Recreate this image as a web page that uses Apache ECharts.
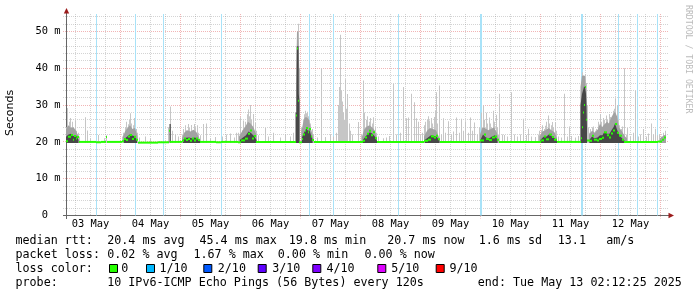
<!DOCTYPE html>
<html><head><meta charset="utf-8">
<script src="https://cdn.jsdelivr.net/npm/echarts@6/dist/echarts.min.js"></script>
<style>html,body{margin:0;padding:0;background:#fff}#c{width:697px;height:297px}</style>
</head><body><div id="c"></div>
<script>
// ---------------- data (time = hours since Sat May 3 02:12:25 2025) ----------------
const dayLabels = ['03 May','04 May','05 May','06 May','07 May','08 May','09 May','10 May','11 May','12 May'];
const yTickValues = [0,10,20,30,40,50];

// median RTT (ms): each value holds until the next point
const medianRtt = [
[0,20.2],[1.1,21.4],[2.0,21.9],[2.8,20.6],[3.5,21.6],[4.1,20.9],[4.6,21.3],[5.2,20.0],
[12.0,19.9],[14.0,20.0],[16.0,21.3],[16.4,20.0],
[22.4,20.2],[23.2,20.8],[24.0,20.5],[25.0,21.5],[25.8,21.9],[26.6,20.8],[27.2,21.4],[28.0,20.6],[28.8,19.8],
[37.0,19.9],[41.4,23.0],[41.8,20.0],
[46.4,20.3],[47.2,20.9],[48.0,20.5],[48.8,20.8],[49.6,20.3],[50.4,20.9],[51.2,20.4],[52.0,20.9],[52.8,20.5],[53.6,20.0],
[60.0,19.9],[62.0,20.0],
[68.8,19.9],[70.3,20.4],[71.6,20.9],[72.9,22.2],[73.9,23.1],[74.7,20.9],[75.3,21.6],[76.0,20.0],
[92.2,27.2],[92.6,45.4],[93.0,31.2],[93.4,19.9],
[94.4,20.8],[95.0,22.0],[95.6,23.0],[96.2,23.8],[96.8,22.6],[97.4,23.5],[98.0,21.5],[98.6,20.5],[99.2,20.0],
[118.8,20.3],[119.6,21.2],[120.4,22.2],[121.2,23.0],[122.0,21.8],[122.8,22.6],[123.6,21.0],[124.4,20.0],
[143.2,20.3],[144.8,20.6],[146.0,21.5],[147.2,21.2],[148.0,21.7],[148.8,20.7],[149.6,20.0],
[165.6,20.4],[167.2,22.0],[168.0,20.8],[169.2,20.5],[170.4,21.2],[171.6,21.5],[172.4,20.6],[173.2,20.0],
[190.0,20.4],[191.2,21.5],[192.0,20.7],[193.2,22.0],[194.4,21.3],[195.2,20.6],[196.4,20.0],
[206.0,21.0],[206.4,24.0],[206.8,28.0],[207.2,30.0],[207.6,34.9],[208.0,26.0],[208.4,20.4],
[209.2,20.3],[210.4,21.7],[211.2,20.6],[212.4,20.4],[213.2,20.8],[214.4,21.1],[215.2,22.6],[216.4,21.8],[217.2,21.2],[218.0,22.3],[218.8,23.1],[219.6,24.9],[220.4,22.5],[221.2,21.7],[222.4,20.6],[223.2,20.0],
[236.8,20.1],[238.4,20.6],[239.2,21.2],[240,21.2]
];

// max ping per step (ms) - light smoke
const smokeMax = [
[0.2,24],[0.7,29.2],[1.2,25.5],[1.6,26.5],[2.0,24],[2.4,25.5],[3.0,23.5],[3.6,25.8],[4.2,23],[4.8,22.5],[5.2,21.5],
[7.7,26.7],[8.4,23.1],[9.6,21],[12.8,21.9],[15.2,21],[16.2,21.8],
[22.4,21.5],[23.0,22.5],[23.6,24],[24.2,25.5],[24.8,24.8],[25.2,26],[25.7,27.8],[26.2,25],[26.8,24.5],[27.4,26.5],[28.0,23.5],[28.6,22.5],[29.2,21.2],
[31.6,21.5],[33.6,21],
[41.1,24],[41.7,29.6],[42.4,23],[43.6,22],[44.8,21.5],
[46.4,22],[47.0,23.5],[47.6,24.5],[48.2,23.2],[48.8,24.9],[49.4,23.8],[50.0,24.6],[50.6,23],[51.2,24.9],[51.8,24],[52.4,24.5],[53.0,22.5],[53.6,21.8],[55.1,24.9],[56.3,25],[57.6,21],[59.6,21.3],[62.4,21.5],[64.0,22],[65.6,22.3],[67.2,21.2],
[68.0,22.5],[68.8,22.5],[69.9,26.7],[70.6,23.2],[70.9,25.8],[71.2,24],[71.8,25.5],[72.4,27.5],[72.9,28.8],[73.4,27],[73.8,30],[74.2,26],[74.8,27.6],[75.6,25.2],[76.2,23],[76.8,21.8],
[79.6,23.8],[80.8,21.5],[82.8,22.5],[85.6,21.2],[87.6,22],[89.6,21.5],[91.0,22.5],
[91.7,28],[92.1,35],[92.5,49],[92.9,52.1],[93.3,40],
[94.3,24],[94.8,26],[95.2,27.5],[95.6,28.5],[96.0,27.8],[96.4,28.2],[96.8,27],[97.3,26],[97.8,25],[98.4,23.5],[98.9,22],
[100.4,21.2],[102.3,40],[103.6,21.3],[105.6,22],[106.8,21.5],
[108.0,22.5],[108.8,30],[109.2,34.9],[109.6,33],[109.9,49.1],[110.2,34],[110.6,31],[111.0,28],[111.4,26],[111.9,37],[112.2,29],[112.6,33],[113.2,25],[113.8,23],[114.4,22],
[116.9,25.4],
[118.0,22],[118.9,36.7],[119.4,28],[120.0,26],[120.6,27],[121.2,25.5],[121.8,26.5],[122.4,25],[122.9,26.7],[123.6,24],[124.2,22.5],[124.8,21.5],
[126.8,21],[128.1,21.2],[129.5,21.6],[130.9,35.8],[132.0,22],[133.6,22.5],[134.9,34.9],[136.1,26.4],[137.1,26.6],[138.2,33.1],[139.2,30.8],[140.1,26.4],[140.8,25.5],[141.8,22],
[142.4,22.5],[143.2,24.5],[143.8,25.5],[144.4,26],[144.8,27],[145.4,25.8],[146.0,26.5],[146.6,25],[147.2,26.8],[147.6,28.5],[148.1,33.5],[148.6,25],[149.5,35.3],[150.0,22],
[150.8,26.4],[151.8,22.5],[152.8,25.6],[154.0,22],[155.0,22.8],[156.1,26.6],[157.2,22.5],[158.1,26.3],[158.8,23],[159.7,25.6],[160.8,22.5],[161.9,26.6],[162.6,23],[163.5,25.3],[164.4,22],
[165.4,24],[166.0,28],[166.8,29.9],[167.4,26],[168.1,27.9],[168.6,25],[169.2,26.6],[169.8,25],[170.2,24],[170.8,28.5],[171.4,25.5],[172.1,27.4],[172.6,24],[173.0,22],
[173.5,33.1],[174.4,22],[175.5,21.9],[176.4,21.5],[178.1,33.5],[179.2,22],[180.4,21.5],[181.6,22],[182.8,26.3],[184.1,21.9],[184.9,23.6],[186.0,21.5],[187.6,21.3],
[188.8,22],[189.4,23],[190.0,23.2],[190.6,24.5],[191.2,23.5],[191.6,24.4],[192.2,25.5],[192.9,27.2],[193.4,25],[194.0,24.5],[194.4,25.4],[194.9,24],[195.6,25.4],[196.2,23],[196.8,21.5],
[198.0,21.2],[199.3,33.1],[200.4,21.5],[201.3,24.2],[202.3,21.6],[203.6,21.2],[204.9,21.6],
[206.0,35],[206.4,38.9],[206.8,37],[207.2,37.5],[207.6,38.4],[208.0,36],[208.4,30],[208.8,24],
[209.2,22.5],[209.8,23.5],[210.4,24],[210.9,24.2],[211.6,23],[212.2,23.5],[212.8,25.5],[213.6,27.6],[214.2,25.5],[214.8,26.5],[215.4,26],[216.0,27.2],[216.6,26],[217.2,27.6],[217.8,26.8],[218.4,27],[219.0,28.5],[219.4,29],[219.9,31.7],[220.4,30],[220.8,26],[221.4,24.5],[222.0,23.5],[222.6,24.2],[223.3,40],[224.0,22],[224.6,23.8],
[225.6,21.5],[226.8,22.5],[227.9,34],[228.8,21.5],[229.6,22],[230.9,23.5],[232.0,21.5],[232.8,22.3],[234.3,25],[235.0,22],[235.6,23.6],[236.4,21.8],[237.2,22],[238.0,21.5],[238.8,22.5],[239.6,23]
];

// upper envelope of the denser smoke (ms), one list per busy period
const smokeMid = [
[[0,23.5],[1.0,24.5],[2.0,23.8],[3.0,24.0],[4.0,23.0],[5.0,21.5]],
[[22.8,21.5],[23.6,22.8],[24.6,23.8],[25.6,24.5],[26.6,23.5],[27.6,23.8],[28.6,21.5]],
[[46.4,21.0],[47.4,22.6],[48.6,23.2],[49.8,22.8],[51.0,23.3],[52.2,22.6],[53.4,21.0]],
[[69.2,21.5],[70.4,22.8],[71.6,24.0],[72.8,25.5],[73.8,25.0],[75.0,24.0],[76.2,21.8]],
[[92.0,35],[92.4,50],[92.9,50],[93.3,40]],
[[94.2,23],[94.8,25],[95.4,26.5],[96.0,26.8],[96.6,26.5],[97.2,26],[97.8,24],[98.4,22.5],[99.0,20.5]],
[[118.4,21.5],[119.4,23.5],[120.4,24.2],[121.4,24.5],[122.4,24.0],[123.4,23.2],[124.4,21.0]],
[[143.2,21.5],[144.4,23.0],[145.6,23.8],[146.8,23.5],[148.0,23.2],[149.4,21.0]],
[[165.6,22.0],[166.6,24.0],[167.6,23.8],[168.8,23.2],[170.0,23.5],[171.2,24.0],[172.4,22.4],[173.0,20.8]],
[[189.4,21.5],[190.6,22.8],[191.8,23.2],[193.0,23.8],[194.2,23.2],[195.4,22.6],[196.4,21.0]],
[[205.8,35],[206.4,38],[207.6,38],[208.4,30]],
[[209.2,22.0],[210.4,23.0],[211.6,22.5],[212.8,23.5],[213.6,25.0],[214.4,24.0],[215.4,24.8],[216.4,25.5],[217.2,25.0],[218.0,26.5],[218.8,27.5],[219.6,28.2],[220.4,27.0],[221.2,24.0],[222.4,22.8],[223.6,21.5],[224.4,21.0]],
[[237.6,21.0],[239.2,21.8],[240,22.0]]
];

// upper envelope of the darkest smoke core (ms)
const smokeDark = [
[[0,21.4],[1.0,22.0],[2.0,22.2],[3.0,21.6],[4.0,21.8],[5.0,20.6]],
[[23.2,20.8],[24.4,21.4],[25.4,22.0],[26.2,21.8],[27.2,21.6],[28.4,20.6]],
[[41.4,24.9],[41.9,24.9]],
[[46.8,20.5],[48.0,21.1],[49.2,21.2],[50.4,21.0],[51.6,21.2],[52.8,20.8],[53.6,20.2]],
[[69.6,20.6],[70.8,21.2],[72.0,21.8],[73.0,22.8],[74.0,22.4],[75.2,21.6],[76.2,20.5]],
[[91.9,28],[92.2,28],[92.3,46],[93.0,46],[93.1,33],[93.4,31]],
[[94.4,21.2],[95.0,22.2],[95.6,23.0],[96.2,23.6],[96.8,23.0],[97.4,23.2],[98.0,21.8],[98.6,20.7]],
[[118.8,20.6],[119.8,21.5],[120.8,22.2],[121.6,22.6],[122.6,22.2],[123.6,21.4],[124.4,20.3]],
[[143.6,20.6],[144.8,21.2],[146.0,21.8],[147.2,21.6],[148.2,21.5],[149.4,20.3]],
[[165.8,20.6],[166.8,22.0],[168.0,21.2],[169.2,20.9],[170.4,21.5],[171.6,21.8],[172.6,20.6]],
[[189.8,20.6],[191.0,21.4],[192.2,21.5],[193.2,22.1],[194.4,21.5],[195.6,20.9],[196.4,20.3]],
[[205.8,30],[206.4,33],[206.8,34],[207.2,35],[207.6,35],[208.0,33],[208.4,24]],
[[209.4,20.6],[210.4,21.5],[211.4,21.0],[212.6,21.2],[213.6,21.8],[214.6,21.8],[215.4,22.8],[216.4,22.2],[217.4,22.2],[218.2,23.2],[219.0,24.0],[219.6,25.0],[220.4,23.4],[221.2,22.0],[222.4,21.0],[223.4,20.4]]
];

// steps with 1/10 packet loss
const lossTicks = [12.1,27.7,38.9,62.3,97.3,106.9,133.1,165.8,166.2,206.0,206.4,220.9,228.5,236.5];

const statLines = [
  ['median rtt:','20.4 ms avg','45.4 ms max','19.8 ms min','20.7 ms now','1.6 ms sd','13.1','am/s'],
  ['packet loss:','0.02 % avg','1.67 % max','0.00 % min','0.00 % now'],
  ['probe:','10 IPv6-ICMP Echo Pings (56 Bytes) every 120s','end: Tue May 13 02:12:25 2025']
];
const lossLegendLabels = ['0','1/10','2/10','3/10','4/10','5/10','9/10'];
const lossLegendColors = ['#26ff00','#00b8ff','#0059ff','#5e00ff','#7e00ff','#dd00ff','#ff0000'];

// ---------------- layout / style ----------------
const G = {left:66, top:14, width:600, height:201.5};
const YMAX = 54.76;
const STEP_H = 0.4;      // one RRA step = 24 min
const BASE = 19.7;
const startHourOfDay = 2 + 12/60 + 25/3600;
const firstMidnight = 24 - startHourOfDay;
const GRID_C = 'rgba(143,143,143,0.38)';
const MGRID_C = 'rgba(222,79,79,0.42)';
const MONO = '"DejaVu Sans Mono", monospace';

const vGrid = [];
for (let t = firstMidnight - 24; t <= 240; t += 6) {
  if (t < 0) continue;
  const r = (((t - firstMidnight) % 24) + 24) % 24;
  const isMajor = r < 1e-6 || Math.abs(r - 24) < 1e-6;
  vGrid.push([t, isMajor ? 1 : 0]);
}
const hGrid = [];
for (let v = 2; v < YMAX; v += 2) hGrid.push([v, v % 10 === 0 ? 1 : 0]);
const noonHours = dayLabels.map((d, i) => firstMidnight - 12 + 24 * i);

const chart = echarts.init(document.getElementById('c'), null, {renderer: 'canvas'});

function polyRender(clumps, color) {
  return function (p, api) {
    const c = clumps[api.value(2)];
    const pts = [api.coord([c[0][0], BASE])];
    c.forEach(q => pts.push(api.coord(q)));
    pts.push(api.coord([c[c.length - 1][0], BASE]));
    return {type: 'polygon', shape: {points: pts}, style: {fill: color}};
  };
}

const legendY = [241, 255, 269, 283];
const line1X = [16, 107.7, 200, 289.3, 387.7, 479.3, 558.3, 606.7];
const line2X = [16, 107.7, 194, 278.3, 365];
const line4X = [16, 107.7, 478.3];
const sqX = [109, 146, 203.3, 257.7, 312.3, 377.3, 435.7];
const sqTextX = [121.7, 160, 218.3, 272.7, 327, 391.7, 450];

const graphics = [];
function txt(x, y, s) {
  graphics.push({type: 'text', x: x - 0.5, y: y, silent: true,
    style: {text: s, font: '11.7px ' + MONO, fill: '#000', textAlign: 'left', textVerticalAlign: 'middle', align: 'left', verticalAlign: 'middle'}});
}
statLines[0].forEach((s, i) => txt(line1X[i], legendY[0], s));
statLines[1].forEach((s, i) => txt(line2X[i], legendY[1], s));
txt(16, legendY[2], 'loss color:');
lossLegendLabels.forEach((s, i) => {
  graphics.push({type: 'rect', silent: true, shape: {x: sqX[i] + 0.5, y: legendY[2] - 4.5, width: 8, height: 8},
    style: {fill: lossLegendColors[i], stroke: '#000', lineWidth: 1}});
  txt(sqTextX[i], legendY[2], s);
});
statLines[2].forEach((s, i) => txt(line4X[i], legendY[3], s));

// axis lines and arrows
graphics.push({type: 'line', silent: true, shape: {x1: 66.5, y1: 12, x2: 66.5, y2: 219}, style: {stroke: '#666', lineWidth: 1}});
graphics.push({type: 'line', silent: true, shape: {x1: 63, y1: 215.5, x2: 670, y2: 215.5}, style: {stroke: '#666', lineWidth: 1}});
graphics.push({type: 'polygon', silent: true, shape: {points: [[63.8, 13.5], [66.5, 8], [69.2, 13.5]]}, style: {fill: '#9c1c1c'}});
graphics.push({type: 'polygon', silent: true, shape: {points: [[668.5, 212.8], [674, 215.5], [668.5, 218.2]]}, style: {fill: '#9c1c1c'}});
// titles
graphics.push({type: 'text', x: 10, y: 113, rotation: Math.PI / 2, silent: true,
  style: {text: 'Seconds', font: '11px "DejaVu Sans", sans-serif', fill: '#000', textAlign: 'center', textVerticalAlign: 'middle', align: 'center', verticalAlign: 'middle'}});
graphics.push({type: 'text', x: 688, y: 5, rotation: -Math.PI / 2, silent: true,
  style: {text: 'RRDTOOL / TOBI OETIKER', font: '8.2px ' + MONO, fill: '#bbbbbb', textAlign: 'left', textVerticalAlign: 'middle', align: 'left', verticalAlign: 'middle'}});

const option = {
  animation: false,
  backgroundColor: '#ffffff',
  grid: {left: G.left, top: G.top, width: G.width, height: G.height, containLabel: false},
  xAxis: {
    type: 'value', min: 0, max: 240,
    axisLine: {show: false}, axisTick: {show: false}, splitLine: {show: false},
    axisLabel: {
      customValues: noonHours,
      formatter: v => dayLabels[Math.round((v - (firstMidnight - 12)) / 24)] || '',
      fontFamily: '"DejaVu Sans Mono", monospace', fontSize: 10.4, color: '#000', margin: 4
    }
  },
  yAxis: {
    type: 'value', min: 0, max: YMAX, interval: 10,
    axisLine: {show: false}, axisTick: {show: false}, splitLine: {show: false},
    axisLabel: {
      formatter: v => (yTickValues.indexOf(v) >= 0) ? (v === 0 ? '0\u00a0\u00a0' : v + ' m') : '',
      fontFamily: '"DejaVu Sans Mono", monospace', fontSize: 10.4, color: '#000', margin: 5.5
    }
  },
  series: [
    {type: 'custom', name: 'vgrid', coordinateSystem: 'cartesian2d', silent: true, z: 1, data: vGrid,
      renderItem: (p, api) => {
        const x = Math.floor(api.coord([api.value(0), 0])[0]) + 0.5;
        const major = api.value(1) === 1;
        const cs = p.coordSys;
        return {type: 'line', shape: {x1: x, y1: cs.y, x2: x, y2: cs.y + cs.height + (major ? 3 : 0)},
          style: {stroke: major ? MGRID_C : GRID_C, lineWidth: 1, lineDash: [1, 1]}};
      }},
    {type: 'custom', name: 'hgrid', coordinateSystem: 'cartesian2d', silent: true, z: 1, data: hGrid.map(d => [0, d[0], d[1]]),
      renderItem: (p, api) => {
        const y = Math.floor(api.coord([0, api.value(1)])[1]) + 0.5;
        const major = api.value(2) === 1;
        const cs = p.coordSys;
        return {type: 'line', shape: {x1: cs.x - 3, y1: y, x2: cs.x + cs.width + 2, y2: y},
          style: {stroke: major ? MGRID_C : GRID_C, lineWidth: 1, lineDash: [1, 1]}};
      }},
    {type: 'custom', name: 'loss', coordinateSystem: 'cartesian2d', silent: true, z: 2, data: lossTicks.map(h => [h, 0]),
      renderItem: (p, api) => {
        const x = Math.floor(api.coord([api.value(0), 0])[0]);
        const w = Math.max(1, Math.round(api.size([STEP_H, 0])[0]));
        const cs = p.coordSys;
        return {type: 'rect', shape: {x: x, y: cs.y, width: w, height: cs.height}, style: {fill: '#a8e2f8'}};
      }},
    {type: 'custom', name: 'smokeMax', coordinateSystem: 'cartesian2d', silent: true, z: 3, data: smokeMax,
      renderItem: (p, api) => {
        const top = api.coord([api.value(0), api.value(1)]);
        const bot = api.coord([api.value(0), BASE]);
        const w = Math.max(1, Math.round(api.size([STEP_H, 0])[0]));
        return {type: 'rect', shape: {x: Math.floor(top[0]), y: top[1], width: w, height: bot[1] - top[1]}, style: {fill: '#c6c6c6'}};
      }},
    {type: 'custom', name: 'smokeMid', coordinateSystem: 'cartesian2d', silent: true, z: 4,
      data: smokeMid.map((c, i) => [c[0][0], c[0][1], i]), renderItem: polyRender(smokeMid, '#a2a2a2')},
    {type: 'custom', name: 'smokeDark', coordinateSystem: 'cartesian2d', silent: true, z: 5,
      data: smokeDark.map((c, i) => [c[0][0], c[0][1], i]), renderItem: polyRender(smokeDark, '#474747')},
    {type: 'custom', name: 'median', coordinateSystem: 'cartesian2d', silent: true, z: 6, data: medianRtt,
      renderItem: (p, api) => {
        const i = p.dataIndex;
        if (i >= medianRtt.length - 1) return null;
        const a = api.coord([medianRtt[i][0], medianRtt[i][1]]);
        const b = api.coord([medianRtt[i + 1][0], medianRtt[i][1]]);
        return {type: 'rect', shape: {x: Math.floor(a[0]), y: a[1] - 1, width: Math.max(1, Math.floor(b[0]) - Math.floor(a[0])), height: 2},
          style: {fill: '#26ff00'}};
      }}
  ],
  graphic: {elements: graphics}
};
chart.setOption(option);
</script>
</body></html>
